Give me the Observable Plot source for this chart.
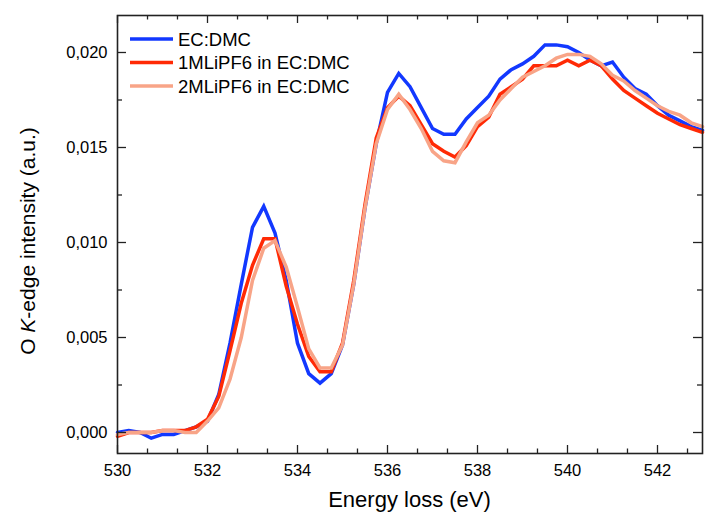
<!DOCTYPE html>
<html>
<head>
<meta charset="utf-8">
<script src="https://cdn.jsdelivr.net/npm/d3@7"></script>
<script src="https://cdn.jsdelivr.net/npm/@observablehq/plot@0.6"></script>
<style>
  html, body { margin: 0; padding: 0; background: #fff; }
  #chart svg { display: block; }
</style>
</head>
<body>
<div id="chart"></div>
<script>
// Energy loss grid (eV)
const energy = [530.00,530.25,530.50,530.75,531.00,531.25,531.50,531.75,532.00,532.25,532.50,532.75,
  533.00,533.25,533.50,533.75,534.00,534.25,534.50,534.75,535.00,535.25,535.50,535.75,
  536.00,536.25,536.50,536.75,537.00,537.25,537.50,537.75,538.00,538.25,538.50,538.75,
  539.00,539.25,539.50,539.75,540.00,540.25,540.50,540.75,541.00,541.25,541.50,541.75,
  542.00,542.25,542.50,542.75,543.00];

// EC:DMC
const ecdmc = [0.0000,0.0001,0.0000,-0.0003,-0.0001,-0.0001,0.0001,0.0003,0.0006,0.0020,0.0047,0.0078,
  0.0108,0.0119,0.0105,0.0080,0.0047,0.0031,0.0026,0.0031,0.0046,0.0078,0.0118,0.0152,
  0.0179,0.0189,0.0182,0.0171,0.0160,0.0157,0.0157,0.0165,0.0171,0.0177,0.0186,0.0191,
  0.0194,0.0198,0.0204,0.0204,0.0203,0.0200,0.0196,0.0193,0.0195,0.0187,0.0181,0.0178,
  0.0172,0.0167,0.0164,0.0161,0.0159];

// 1MLiPF6 in EC:DMC
const m1 = [-0.0002,0.0000,0.0000,0.0000,0.0001,0.0001,0.0001,0.0003,0.0007,0.0019,0.0043,0.0068,
  0.0088,0.0102,0.0102,0.0077,0.0057,0.0040,0.0032,0.0032,0.0047,0.0080,0.0120,0.0155,
  0.0171,0.0177,0.0172,0.0162,0.0152,0.0148,0.0145,0.0151,0.0161,0.0166,0.0178,0.0182,
  0.0186,0.0193,0.0193,0.0193,0.0196,0.0193,0.0196,0.0193,0.0186,0.0180,0.0176,0.0172,
  0.0168,0.0165,0.0162,0.0160,0.0158];

// 2MLiPF6 in EC:DMC
const m2 = [-0.0001,0.0000,0.0000,0.0000,0.0001,0.0001,0.0000,0.0000,0.0006,0.0013,0.0028,0.0050,
  0.0080,0.0097,0.0101,0.0087,0.0066,0.0044,0.0034,0.0034,0.0046,0.0078,0.0118,0.0152,
  0.0170,0.0178,0.0170,0.0160,0.0148,0.0143,0.0142,0.0153,0.0163,0.0167,0.0175,0.0181,
  0.0187,0.0190,0.0193,0.0197,0.0199,0.0199,0.0198,0.0194,0.0188,0.0185,0.0180,0.0176,
  0.0172,0.0169,0.0167,0.0163,0.0161];

const seriesNames = ["EC:DMC", "1MLiPF6 in EC:DMC", "2MLiPF6 in EC:DMC"];
const seriesColors = ["#1238ff", "#ff2a05", "#f8a487"];
const seriesValues = [ecdmc, m1, m2];

const xMajorTicks = [530, 532, 534, 536, 538, 540, 542];
const xMinorTicks = [530.667,531.333,532.667,533.333,534.667,535.333,536.667,537.333,538.667,539.333,540.667,541.333,542.667];
const yMajorTicks = [0, 0.005, 0.010, 0.015, 0.020];
const yMinorTicks = [0.0025, 0.0075, 0.0125, 0.0175];

const xTitle = "Energy loss (eV)";

// tidy table
const rows = [];
seriesNames.forEach((name, i) => {
  energy.forEach((e, j) => rows.push({series: name, energy: e, value: seriesValues[i][j]}));
});

const W = 710, H = 516;
const mL = 117, mR = 8, mT = 15, mB = 63;
const pw = W - mL - mR, ph = H - mT - mB;
const tickColor = "#222";

const chart = Plot.plot({
  width: W, height: H,
  marginLeft: mL, marginRight: mR, marginTop: mT, marginBottom: mB,
  style: {fontFamily: "'Liberation Sans', Arial, sans-serif", fontSize: "16.5px", color: "#000", background: "#fff"},
  x: {domain: [530, 543]},
  y: {domain: [-0.001105, 0.021947]},
  color: {domain: seriesNames, range: seriesColors},
  marks: [
    Plot.line(rows, {x: "energy", y: "value", z: "series", stroke: "series", strokeWidth: 3.5, strokeLinejoin: "miter", strokeMiterlimit: 3}),
    // inward ticks
    Plot.tickX(xMajorTicks, {x: d => d, insetTop: ph - 8, stroke: tickColor, strokeWidth: 1.3}),
    Plot.tickX(xMinorTicks, {x: d => d, insetTop: ph - 4.5, stroke: tickColor, strokeWidth: 1.3}),
    Plot.tickX(xMajorTicks, {x: d => d, insetBottom: ph - 8, stroke: tickColor, strokeWidth: 1.3}),
    Plot.tickX(xMinorTicks, {x: d => d, insetBottom: ph - 4.5, stroke: tickColor, strokeWidth: 1.3}),
    Plot.tickY(yMajorTicks, {y: d => d, insetRight: pw - 9, stroke: tickColor, strokeWidth: 1.3}),
    Plot.tickY(yMinorTicks, {y: d => d, insetRight: pw - 5, stroke: tickColor, strokeWidth: 1.3}),
    Plot.tickY(yMajorTicks, {y: d => d, insetLeft: pw - 9, stroke: tickColor, strokeWidth: 1.3}),
    Plot.tickY(yMinorTicks, {y: d => d, insetLeft: pw - 5, stroke: tickColor, strokeWidth: 1.3}),
    Plot.axisX({ticks: xMajorTicks, tickSize: 0, tickPadding: 11, label: null, tickFormat: d => String(d)}),
    Plot.axisY({ticks: yMajorTicks, tickSize: 0, tickPadding: 10, label: null,
      tickFormat: d => d3.format(".3f")(d).replace(".", ",")}),
    Plot.frame({stroke: tickColor, strokeWidth: 1.6})
  ]
});

document.getElementById("chart").appendChild(chart);

const svg = d3.select(chart);
const ff = "'Liberation Sans', Arial, sans-serif";

// x title
svg.append("text")
  .attr("x", mL + pw / 2).attr("y", 507)
  .attr("text-anchor", "middle")
  .attr("font-family", ff).attr("font-size", 22).attr("fill", "#000")
  .text(xTitle);

// y title with italic K
const yt = svg.append("text")
  .attr("transform", "translate(35,241) rotate(-90)")
  .attr("text-anchor", "middle")
  .attr("font-family", ff).attr("font-size", 21).attr("fill", "#000");
yt.append("tspan").text("O ");
yt.append("tspan").attr("font-style", "italic").text("K");
yt.append("tspan").text("-edge intensity (a.u.)");

// legend
const leg = svg.append("g");
seriesNames.forEach((name, i) => {
  const y = 39 + i * 23.5;
  leg.append("line").attr("x1", 130).attr("x2", 173).attr("y1", y).attr("y2", y)
    .attr("stroke", seriesColors[i]).attr("stroke-width", 3.5);
  leg.append("text").attr("x", 178).attr("y", y).attr("dy", "0.36em")
    .attr("text-anchor", "start")
    .attr("font-family", ff).attr("font-size", 18.5).attr("fill", "#000").text(name);
});
</script>
</body>
</html>
